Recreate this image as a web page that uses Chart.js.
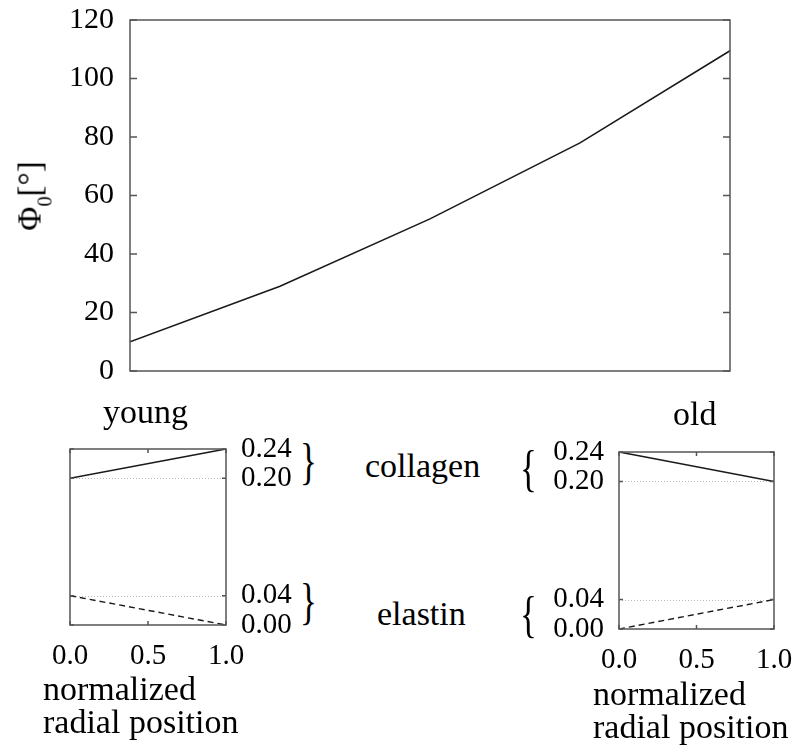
<!DOCTYPE html>
<html lang="en">
<head>
    <meta charset="UTF-8">
    <title>Fibre angle young vs old</title>
    <style>
        body { margin: 0; background: #fff; }
        #wrap { position: relative; width: 803px; height: 753px; overflow: hidden;
                font-family: "Liberation Serif", Tinos, "Times New Roman", Times, "Nimbus Roman", "Nimbus Roman No9 L", "TeX Gyre Termes", FreeSerif, "Noto Serif", "DejaVu Serif", serif; color: #000; }
        #wrap canvas { position: absolute; }
        .lbl { position: absolute; font-size: 34px; line-height: 1; white-space: nowrap; }
        .two { line-height: 33px; }
        .brace { position: absolute; font-size: 50px; line-height: 1; transform: scaleX(0.7); transform-origin: left center; }
        #ylab { position: absolute; left: 30px; top: 196px; font-size: 33px; line-height: 1; white-space: nowrap;
                transform: translate(-50%, -50%) rotate(-90deg); }
        #ylab sub { font-size: 0.62em; line-height: 0; position: relative; top: 0.15em; }
    </style>
</head>
<body>
<div id="wrap">
    <canvas id="mainChart" width="760" height="411" style="left:0;top:-10px;width:760px;height:411px;"></canvas>
    <canvas id="youngChart" width="300" height="271" style="left:0;top:419px;width:300px;height:271px;"></canvas>
    <canvas id="oldChart" width="303" height="268" style="left:500px;top:422px;width:303px;height:268px;"></canvas>

    <div id="ylab">Φ<sub>0</sub>[°]</div>

    <div class="lbl" style="left:103px;top:395px;">young</div>
    <div class="lbl" style="left:673px;top:397px;">old</div>
    <div class="lbl" style="left:365px;top:449px;">collagen</div>
    <div class="lbl" style="left:377px;top:597px;">elastin</div>

    <div class="brace" style="left:300px;top:436px;">}</div>
    <div class="brace" style="left:300px;top:576px;">}</div>
    <div class="brace" style="left:520px;top:443px;">{</div>
    <div class="brace" style="left:520px;top:589px;">{</div>

    <div class="lbl two" style="left:43px;top:672px;">normalized<br>radial position</div>
    <div class="lbl two" style="left:593px;top:677px;">normalized<br>radial position</div>
</div>

<script src="https://cdn.jsdelivr.net/npm/chart.js"></script>
<script>
    // main curve: phi_0 along the young -> old axis
    const agePos = [0, 0.25, 0.5, 0.75, 1];
    const phi0 = [10, 29, 52, 78, 109.5];
    const phiTicks = [0, 20, 40, 60, 80, 100, 120];

    // small panels: volume fractions over normalized radial position
    const radialPos = [0, 1];
    const youngCollagen = [0.20, 0.24];
    const youngElastin = [0.04, 0.00];
    const oldCollagen = [0.24, 0.20];
    const oldElastin = [0.00, 0.04];
    const fracTicks = [0, 0.04, 0.20, 0.24];
    const fracGuides = [0.04, 0.20];
    const radialTicks = [0, 0.5, 1];

    const FONT = '"Liberation Serif", Tinos, "Times New Roman", Times, "Nimbus Roman", "TeX Gyre Termes", FreeSerif, "Noto Serif", "DejaVu Serif", serif';

    function pts(xs, ys) {
        return xs.map((x, i) => ({ x: x, y: ys[i] }));
    }

    // box round the plot area + ticks pointing inwards, like matlab
    const framePlugin = {
        id: 'frame',
        beforeDatasetsDraw(chart, args, opts) {
            const a = chart.chartArea;
            const ctx = chart.ctx;
            const ys = chart.scales.y;
            if (!opts.guides) return;
            ctx.save();
            ctx.strokeStyle = '#b8b8b8';
            ctx.lineWidth = 1;
            ctx.setLineDash([1, 2]);
            ctx.beginPath();
            opts.guides.forEach(v => {
                const p = Math.round(ys.getPixelForValue(v)) + 0.5;
                ctx.moveTo(a.left, p);
                ctx.lineTo(a.right, p);
            });
            ctx.stroke();
            ctx.restore();
        },
        afterDatasetsDraw(chart, args, opts) {
            const a = chart.chartArea;
            const ctx = chart.ctx;
            const ys = chart.scales.y;
            const xs = chart.scales.x;
            const len = opts.len || 5;
            ctx.save();
            ctx.strokeStyle = '#555';
            ctx.lineWidth = 1.5;
            ctx.beginPath();
            ys.ticks.forEach(t => {
                const p = ys.getPixelForValue(t.value);
                ctx.moveTo(a.left, p); ctx.lineTo(a.left + len, p);
                ctx.moveTo(a.right, p); ctx.lineTo(a.right - len, p);
            });
            if (opts.xTicks) {
                xs.ticks.forEach(t => {
                    const p = xs.getPixelForValue(t.value);
                    ctx.moveTo(p, a.top); ctx.lineTo(p, a.top + len);
                    ctx.moveTo(p, a.bottom); ctx.lineTo(p, a.bottom - len);
                });
            }
            ctx.stroke();
            ctx.strokeRect(a.left, a.top, a.right - a.left, a.bottom - a.top);
            ctx.restore();
        }
    };

    new Chart(document.getElementById('mainChart'), {
        type: 'line',
        data: {
            datasets: [{
                data: pts(agePos, phi0),
                borderColor: '#1a1a1a',
                borderWidth: 1.6,
                pointRadius: 0,
                tension: 0
            }]
        },
        options: {
            responsive: false,
            animation: false,
            layout: { padding: { left: 0, right: 30, top: 30, bottom: 30 } },
            plugins: {
                legend: { display: false },
                tooltip: { enabled: false },
                frame: { len: 7 }
            },
            scales: {
                x: { type: 'linear', min: 0, max: 1, display: false },
                y: {
                    min: 0, max: 120,
                    afterBuildTicks: s => { s.ticks = phiTicks.map(v => ({ value: v })); },
                    afterFit: s => { s.width = 130; },
                    grid: { display: false },
                    border: { display: false },
                    ticks: { color: '#000', padding: 8, font: { family: FONT, size: 30 } }
                }
            }
        },
        plugins: [framePlugin]
    });

    function panel(id, collagen, elastin, side, pad, axisW, xH) {
        return new Chart(document.getElementById(id), {
            type: 'line',
            data: {
                datasets: [{
                    label: 'collagen',
                    data: pts(radialPos, collagen),
                    borderColor: '#1a1a1a',
                    borderWidth: 1.6,
                    pointRadius: 0
                }, {
                    label: 'elastin',
                    data: pts(radialPos, elastin),
                    borderColor: '#1a1a1a',
                    borderWidth: 1.4,
                    borderDash: [6, 4],
                    pointRadius: 0
                }]
            },
            options: {
                responsive: false,
                animation: false,
                layout: { padding: pad },
                plugins: {
                    legend: { display: false },
                    tooltip: { enabled: false },
                    frame: { len: 4, xTicks: true, guides: fracGuides }
                },
                scales: {
                    x: {
                        type: 'linear', min: 0, max: 1,
                        afterBuildTicks: s => { s.ticks = radialTicks.map(v => ({ value: v })); },
                        afterFit: s => { s.height = xH; },
                        grid: { display: false },
                        border: { display: false },
                        ticks: {
                            color: '#000', padding: 6, maxRotation: 0,
                            font: { family: FONT, size: 29 },
                            callback: v => Number(v).toFixed(1)
                        }
                    },
                    y: {
                        position: side, min: 0, max: 0.24,
                        afterBuildTicks: s => { s.ticks = fracTicks.map(v => ({ value: v })); },
                        afterFit: s => { s.width = axisW; },
                        grid: { display: false },
                        border: { display: false },
                        ticks: {
                            color: '#000', padding: 7,
                            font: { family: FONT, size: 29 },
                            callback: v => Number(v).toFixed(2)
                        }
                    }
                }
            },
            plugins: [framePlugin]
        });
    }

    panel('youngChart', youngCollagen, youngElastin, 'right',
          { left: 70, right: 0, top: 30, bottom: 25 }, 74, 40);
    panel('oldChart', oldCollagen, oldElastin, 'left',
          { left: 0, right: 29, top: 30, bottom: 20 }, 119, 41);
</script>
</body>
</html>
